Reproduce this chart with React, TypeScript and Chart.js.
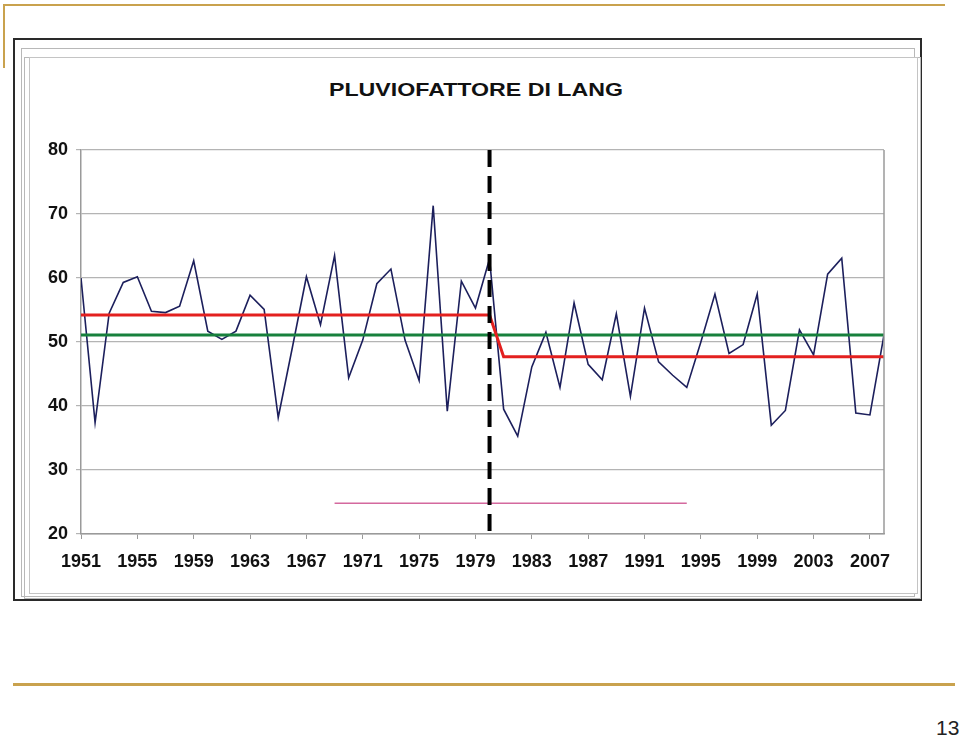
import React, { useEffect, useRef } from "react";
import { Chart, registerables } from "chart.js";

Chart.register(...registerables);

const YEARS = [
  1951, 1952, 1953, 1954, 1955, 1956, 1957, 1958, 1959, 1960,
  1961, 1962, 1963, 1964, 1965, 1966, 1967, 1968, 1969, 1970,
  1971, 1972, 1973, 1974, 1975, 1976, 1977, 1978, 1979, 1980,
  1981, 1982, 1983, 1984, 1985, 1986, 1987, 1988, 1989, 1990,
  1991, 1992, 1993, 1994, 1995, 1996, 1997, 1998, 1999, 2000,
  2001, 2002, 2003, 2004, 2005, 2006, 2007, 2008,
];

const LANG_INDEX = [
  60.0, 37.4, 54.5, 59.3, 60.2, 54.8, 54.6, 55.6, 62.7, 51.7,
  50.4, 51.7, 57.3, 55.1, 38.2, 49.1, 60.2, 52.7, 63.5, 44.4,
  50.3, 59.1, 61.4, 50.3, 44.0, 71.3, 39.2, 59.5, 55.3, 63.0,
  39.5, 35.3, 46.1, 51.5, 42.9, 56.1, 46.5, 44.1, 54.4, 41.5,
  55.3, 46.9, 44.8, 42.9, 50.0, 57.5, 48.2, 49.6, 57.5, 37.0,
  39.3, 51.9, 48.0, 60.6, 63.1, 38.9, 38.6, 51.1,
];

// step mean (before / after the change point)
const STEP_YEARS = [1951, 1980, 1981, 2008];
const STEP_VALUES = [54.2, 54.2, 47.7, 47.7];

// overall mean
const MEAN_YEARS = [1951, 2008];
const MEAN_VALUES = [51.1, 51.1];

// change point marker
const BREAK_YEARS = [1980, 1980];
const BREAK_VALUES = [80, 19.4];

// pink segment
const PINK_YEARS = [1969, 1994];
const PINK_VALUES = [24.8, 24.8];

const X_TICKS = [1951, 1955, 1959, 1963, 1967, 1971, 1975, 1979, 1983, 1987, 1991, 1995, 1999, 2003, 2007];
const Y_TICKS = [20, 30, 40, 50, 60, 70, 80];

const TITLE = "PLUVIOFATTORE DI LANG";
const PAGE_NUMBER = "13";

const FONT = '"Liberation Sans", Arial, sans-serif';

const pts = (xs: number[], ys: number[]) => xs.map((x, i) => ({ x, y: ys[i] }));

const rightBorder = {
  id: "rightBorder",
  afterDatasetsDraw(chart: any) {
    const { ctx, chartArea } = chart;
    ctx.save();
    ctx.strokeStyle = "#9a9a9a";
    ctx.lineWidth = 1.5;
    ctx.beginPath();
    ctx.moveTo(chartArea.right, chartArea.top);
    ctx.lineTo(chartArea.right, chartArea.bottom);
    ctx.stroke();
    ctx.restore();
  },
};

export default function App() {
  const ref = useRef<HTMLCanvasElement | null>(null);

  useEffect(() => {
    if (!ref.current) return;
    const chart = new Chart(ref.current, {
      type: "line",
      data: {
        datasets: [
          {
            data: pts(BREAK_YEARS, BREAK_VALUES),
            borderColor: "#000000",
            borderWidth: 4,
            borderDash: [17, 9],
            pointRadius: 0,
            clip: false as any,
            order: 0,
          },
          {
            data: pts(STEP_YEARS, STEP_VALUES),
            borderColor: "#e3201f",
            borderWidth: 3,
            pointRadius: 0,
            order: 1,
          },
          {
            data: pts(MEAN_YEARS, MEAN_VALUES),
            borderColor: "#17803c",
            borderWidth: 3,
            pointRadius: 0,
            order: 2,
          },
          {
            data: pts(YEARS, LANG_INDEX),
            borderColor: "#1c1f5c",
            borderWidth: 1.6,
            pointRadius: 0,
            tension: 0,
            order: 3,
          },
          {
            data: pts(PINK_YEARS, PINK_VALUES),
            borderColor: "#d4699e",
            borderWidth: 1.5,
            pointRadius: 0,
            order: 4,
          },
        ],
      },
      options: {
        animation: false,
        responsive: false,
        devicePixelRatio: 1,
        layout: { padding: { top: 150, right: 76, left: 0, bottom: 0 } },
        plugins: {
          legend: { display: false },
          title: { display: false },
          tooltip: { enabled: false },
        },
        scales: {
          x: {
            type: "linear",
            min: 1951,
            max: 2008,
            afterBuildTicks: (scale: any) => {
              scale.ticks = X_TICKS.map((v) => ({ value: v }));
            },
            afterFit: (scale: any) => {
              scale.height = 203;
            },
            ticks: {
              autoSkip: false,
              maxRotation: 0,
              padding: 12,
              color: "#111111",
              font: { family: FONT, size: 18, weight: "bold" },
              callback: (v: any) => String(v),
            },
            grid: {
              drawOnChartArea: false,
              drawTicks: true,
              tickLength: 5,
              color: "#9a9a9a",
            },
            border: { color: "#9a9a9a", width: 1.5 },
          },
          y: {
            min: 20,
            max: 80,
            afterBuildTicks: (scale: any) => {
              scale.ticks = Y_TICKS.map((v) => ({ value: v }));
            },
            afterFit: (scale: any) => {
              scale.width = 81;
            },
            ticks: {
              padding: 8,
              color: "#111111",
              font: { family: FONT, size: 18, weight: "bold" },
            },
            grid: {
              color: "#b4b4b4",
              lineWidth: 1.2,
              tickLength: 5,
            },
            border: { color: "#9a9a9a", width: 1.5 },
          },
        },
      },
      plugins: [rightBorder],
    });
    return () => chart.destroy();
  }, []);

  const abs = (s: React.CSSProperties): React.CSSProperties => ({ position: "absolute", ...s });

  return (
    <div style={{ position: "fixed", left: 0, top: 0, width: 960, height: 737, background: "#ffffff", overflow: "hidden", fontFamily: FONT }}>
      {/* gold decorations */}
      <div style={abs({ left: 4, top: 4, width: 941, height: 2, background: "#c9a24e" })} />
      <div style={abs({ left: 3, top: 4, width: 2, height: 64, background: "#c9a24e" })} />
      <div style={abs({ left: 13, top: 683, width: 942, height: 3, background: "#c9a24e" })} />
      <div style={abs({ left: 936, top: 716, fontSize: 21, color: "#222", lineHeight: "24px" })}>{PAGE_NUMBER}</div>

      {/* chart frames */}
      <div style={abs({ left: 13, top: 38, width: 905, height: 559, border: "2px solid #2a2a2a" })} />
      <div style={abs({ left: 21, top: 48, width: 892, height: 547, border: "1px solid #b8b8b8" })} />
      <div style={abs({ left: 24, top: 57, width: 895, height: 540, border: "1px solid #b8b8b8" })} />
      <div style={abs({ left: 29, top: 57, width: 887, height: 535, border: "1px solid #c4c4c4", background: "#ffffff" })} />

      <div
        style={abs({
          left: 276,
          top: 76,
          width: 400,
          textAlign: "center",
          fontSize: 19,
          fontWeight: "bold",
          color: "#111",
          transform: "scaleX(1.22)",
          lineHeight: "27px",
        })}
      >
        {TITLE}
      </div>

      <canvas ref={ref} width={960} height={737} style={abs({ left: 0, top: 0, width: 960, height: 737 })} />
    </div>
  );
}
